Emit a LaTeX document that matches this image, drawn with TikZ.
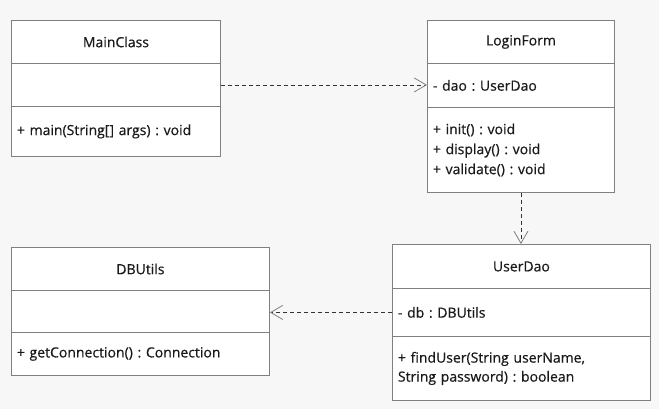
\documentclass[tikz,border=0pt]{standalone}
\usepackage{fontspec}
\setmainfont{Open Sans}[FakeBold=0.5]
\frenchspacing
\usetikzlibrary{arrows.meta}
\definecolor{bgcol}{HTML}{F7F7F7}
\definecolor{boxline}{HTML}{808080}
\definecolor{dashcol}{HTML}{333333}
\definecolor{txtcol}{HTML}{1A1A1A}
\tikzset{
  x=1pt, y=-1pt,
  comp/.style={draw=boxline, line width=0.9pt, fill=white, anchor=north west, text=txtcol,
    inner xsep=0pt, inner ysep=0pt, font=\fontsize{14}{19}\selectfont},
  titlebox/.style={comp, align=center},
  bodybox/.style={comp, align=left, inner xsep=5.5pt},
  dep/.style={draw=dashcol, line width=0.8pt, dash pattern=on 4pt off 3pt,
    -{Straight Barb[length=12pt,width=14pt,line width=0.8pt,color=boxline]}}
}
\begin{document}
\begin{tikzpicture}
\fill[bgcol] (0,0) rectangle (659,409);
\useasboundingbox (0,0) rectangle (659,409);
% MainClass
\node[titlebox, minimum width=209pt, minimum height=43pt] (mch) at (11,20) {MainClass};
\node[bodybox, text width=198pt, minimum height=43pt] (mca) at (11,63) {};
\node[bodybox, text width=198pt, minimum height=50pt] (mcm) at (11,106) {+ main(String[] args) : void};
% LoginForm
\node[titlebox, minimum width=187pt, minimum height=43pt] (lfh) at (427,20) {LoginForm};
\node[bodybox, text width=176pt, minimum height=44pt] (lfa) at (427,63) {- dao : UserDao};
\node[bodybox, text width=176pt, minimum height=85pt, font=\fontsize{14}{20}\selectfont] (lfm) at (427,107) {+ init() : void\\+ display() : void\\+ validate() : void};
% DBUtils
\node[titlebox, minimum width=258pt, minimum height=43pt] (dbh) at (11,247) {DBUtils};
\node[bodybox, text width=247pt, minimum height=42pt] (dba) at (11,290) {};
\node[bodybox, text width=247pt, minimum height=43pt] (dbm) at (11,332) {+ getConnection() : Connection};
% UserDao
\node[titlebox, minimum width=258pt, minimum height=44pt] (udh) at (392,244) {UserDao};
\node[bodybox, text width=247pt, minimum height=48pt] (uda) at (392,288) {- db : DBUtils};
\node[bodybox, text width=247pt, minimum height=64pt] (udm) at (392,336) {+ findUser(String userName,\\String password) : boolean};
% dependencies
\draw[dep] (mca.east) -- (mca.east -| lfa.west);
\draw[dep] (lfm.south) -- (lfm.south |- udh.north);
\draw[dep] (uda.west) -- (uda.west -| dba.east);
\end{tikzpicture}
\end{document}
